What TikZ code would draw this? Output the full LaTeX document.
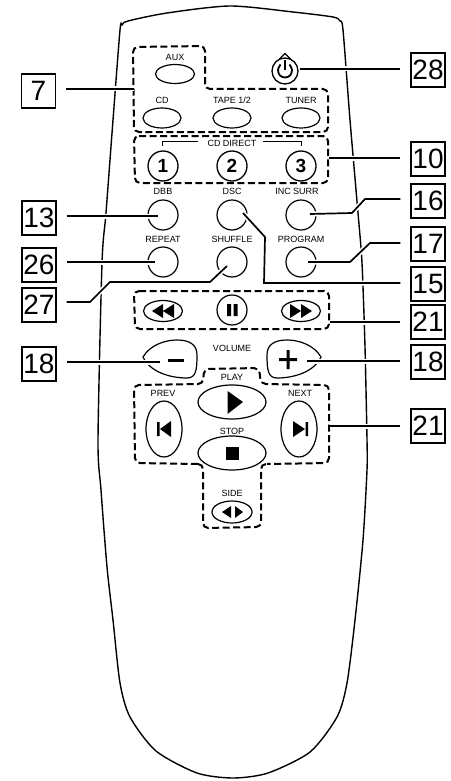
\documentclass[tikz,border=0pt]{standalone}
\usepackage{fontspec}
\setmainfont{Liberation Sans}
\usetikzlibrary{shapes.geometric}
\tikzset{
  x=1pt,y=-1pt,
  callout/.style={draw,line width=1.4pt,minimum width=34pt,minimum height=34pt,inner sep=0pt,font=\fontsize{28}{28}\selectfont},
  lead/.style={line width=1.7pt,preaction={draw=white,line width=5pt}},
  group/.style={line width=2pt,dash pattern=on 7pt off 3.5pt,rounded corners=5pt},
  body/.style={line width=1.4pt},
  btn/.style={draw,ellipse,line width=1.2pt,inner sep=0pt,minimum width=#1},
  tag/.style={font=\fontsize{9}{9}\selectfont,inner sep=0pt},
  digit/.style={draw,circle,line width=1.3pt,minimum size=30pt,inner sep=0pt,font=\bfseries\fontsize{19}{19}\selectfont},
  round/.style={draw,circle,line width=1.2pt,minimum size=30pt,inner sep=0pt},
}
\begin{document}
\begin{tikzpicture}
\useasboundingbox (0,0) rectangle (450,781);
\fill[white] (0,0) rectangle (450,781);
% body
\draw[body] plot[smooth cycle,tension=0.45] coordinates {(230,6)(293,12)(333,17)(340,21)(343,30)(350,120)(358,213)(362,263)(365,347)(367,440)(367,470)(363,540)(355,620)(347,683)(337,717)(310,752)(268,773)(233,778)(197,773)(156,751)(130,717)(120,683)(113,620)(107,567)(101,490)(98,440)(102,263)(106,213)(113,120)(120,30)(122,25)(128,21)(167,13)};
% dashed groups
\draw[group] (134,132) -- (133,47) -- (205,46) -- (205,89) -- (328,89) -- (328,132) -- cycle;
\draw[group] (134,136) -- (328,136) -- (328,183) -- (135,183) -- cycle;
\draw[group] (134,291) -- (329,291) -- (329,329) -- (135,329) -- cycle;
\draw[group] (198,464) -- (135,463) -- (134,385) -- (203,384) -- (204,369) -- (259,368) -- (261,384) -- (329,385) -- (329,463) -- (267,464);
\draw[group] (198,464) -- (203,464) -- (203,528) -- (261,527) -- (261,464) -- (267,464);
% buttons
\node[btn=39pt,minimum height=19pt] (aux) at (175,74) {};
\node[btn=38pt,minimum height=20pt] (cd) at (162,118) {};
\node[btn=38pt,minimum height=20pt] (tape) at (232,118) {};
\node[btn=38pt,minimum height=20pt] (tuner) at (301,118) {};
\node[draw,circle,line width=1.3pt,minimum size=26pt,inner sep=0pt] (power) at (285,71) {};
\draw[line width=1.2pt] (279,59.5) -- (285,53.5) -- (291,59.5);
\draw[line width=1.8pt] plot[smooth,tension=0.6] coordinates {(280.5,64.5)(278,70)(280,75.5)(285,77.5)(290,75.5)(292,70)(289.5,64.5)};
\draw[line width=2pt] (285,60) -- (285,70);
\node[digit] (one) at (163,166) {1};
\node[digit] (two) at (232,166) {2};
\node[digit] (three) at (301,166) {3};
\node[round] (dbb) at (163,215) {};
\node[round] (dsc) at (232,215) {};
\node[round] (inc) at (301,215) {};
\node[round] (repeat) at (163,262) {};
\node[round] (shuffle) at (232,262) {};
\node[round] (program) at (301,262) {};
\node[btn=39pt,minimum height=21pt] (rew) at (163,311) {};
\node[round] (pause) at (232,310) {};
\node[btn=39pt,minimum height=21pt] (ffw) at (301,311) {};
\node[btn=68pt,minimum height=34pt,fill=white] (play) at (232,402) {};
\node[btn=36pt,minimum height=56pt] (prev) at (164,429) {};
\node[btn=36pt,minimum height=56pt] (next) at (299,429) {};
\node[btn=68pt,minimum height=34pt,fill=white] (stop) at (232,453) {};
\node[btn=40pt,minimum height=22pt] (side) at (232,512) {};
\draw[line width=1.2pt] (143,357) .. controls (150,345) and (165,340) .. (177,340) .. controls (190,340) and (197,345) .. (197,355) .. controls (197,370) and (196,378) .. (187,378) .. controls (170,378) and (150,372) .. (143,357) -- cycle;
\draw[line width=1.2pt] (321,357) .. controls (314,345) and (299,340) .. (287,340) .. controls (274,340) and (267,345) .. (267,355) .. controls (267,370) and (268,378) .. (277,378) .. controls (294,378) and (314,372) .. (321,357) -- cycle;
% icons
\fill (152,311) -- (163,304) -- (163,318) -- cycle (163,311) -- (174,304) -- (174,318) -- cycle;
\fill (312,311) -- (301,304) -- (301,318) -- cycle (301,311) -- (290,304) -- (290,318) -- cycle;
\fill (227,304) rectangle (231,316) (233.5,304) rectangle (237.5,316);
\fill (227.5,391) -- (243,402) -- (227.5,414) -- cycle;
\fill (226,446.5) rectangle (239,460);
\fill (157,422) rectangle (159.5,436) (160,429) -- (171,421) -- (171,437) -- cycle;
\fill (305.5,422) rectangle (308,436) (305,429) -- (293,421) -- (293,437) -- cycle;
\fill (222,512) -- (231,506) -- (231,518) -- cycle (243,512) -- (235,506) -- (235,518) -- cycle;
\fill (168,359) rectangle (184,362);
\fill (279,358) rectangle (297,361) (286.5,350) rectangle (289.5,369);
% tags
\node[tag] (taux) at (175,57) {AUX};
\node[tag] (tcd) at (162,100) {CD};
\node[tag] (ttape) at (232,100) {TAPE 1/2};
\node[tag] (ttuner) at (301,100) {TUNER};
\node[tag] (tdirect) at (232,143) {CD DIRECT};
\draw[line width=0.8pt] (162,146) -- (162,141) -- (198,141);
\draw[line width=0.8pt] (263,141) -- (301,141) -- (301,146);
\node[tag] (tdbb) at (163,191) {DBB};
\node[tag] (tdsc) at (232,191) {DSC};
\node[tag] (tinc) at (297,191) {INC SURR};
\node[tag] (trepeat) at (163,239) {REPEAT};
\node[tag] (tshuffle) at (232,239) {SHUFFLE};
\node[tag] (tprogram) at (301,239) {PROGRAM};
\node[tag] (tvolume) at (232,348) {VOLUME};
\node[tag] (tplay) at (232,377) {PLAY};
\node[tag] (tprev) at (163,393) {PREV};
\node[tag] (tnext) at (300,393) {NEXT};
\node[tag] (tstop) at (232,431) {STOP};
\node[tag] (tside) at (232,493) {SIDE};
% callouts
\node[callout] (c7) at (38.5,91) {7};
\node[callout] (c13) at (39,218) {13};
\node[callout] (c26) at (39,265) {26};
\node[callout] (c27) at (39,305) {27};
\node[callout] (c18l) at (39,364) {18};
\node[callout] (c28) at (428,70) {28};
\node[callout] (c10) at (428,159) {10};
\node[callout,fill=white] (c16) at (428,201) {16};
\node[callout] (c17) at (428,244) {17};
\node[callout] (c15) at (428,284) {15};
\node[callout] (c21a) at (428,322) {21};
\node[callout] (c18r) at (428,362) {18};
\node[callout] (c21b) at (428,426) {21};
% ends of connectors
\coordinate (e7) at (134,89);
\coordinate (e28) at (300,69);
\coordinate (e10) at (329,158);
\coordinate (e16) at (310,214);
\coordinate (e13) at (158,216);
\coordinate (e15) at (243,213);
\coordinate (e17) at (308,262);
\coordinate (e26) at (155,262);
\coordinate (e27) at (227,266);
\coordinate (e21a) at (330,322);
\coordinate (e18l) at (160,362);
\coordinate (e18r) at (307,361);
\coordinate (e21b) at (330,426);
\draw[lead] ([xshift=10pt]c7.east|-e7) -- (e7);
\draw[lead] ([xshift=-10pt]c28.west|-e28) -- (e28);
\draw[lead] ([xshift=-10pt]c10.west|-e10) -- (e10);
\draw[lead] ([xshift=-10pt]c16.west|-0,199) -- (365,199) -- (352,213) -- (e16);
\draw[lead] ([xshift=10pt]c13.east|-e13) -- (e13);
\draw[lead] ([xshift=-10pt]c15.west|-0,283) -- (264,283) -- (265,237) -- (e15);
\draw[lead] ([xshift=-10pt]c17.west|-0,243) -- (370,243) -- (350,262) -- (e17);
\draw[lead] ([xshift=10pt]c26.east|-e26) -- (e26);
\draw[lead] ([xshift=10pt]c27.east|-0,302) -- (90,302) -- (110,282) -- (210,282) -- (e27);
\draw[lead] ([xshift=-10pt]c21a.west|-e21a) -- (e21a);
\draw[lead] ([xshift=10pt]c18l.east|-e18l) -- (e18l);
\draw[lead] ([xshift=-10pt]c18r.west|-e18r) -- (e18r);
\draw[lead] ([xshift=-10pt]c21b.west|-e21b) -- (e21b);
\end{tikzpicture}
\end{document}
